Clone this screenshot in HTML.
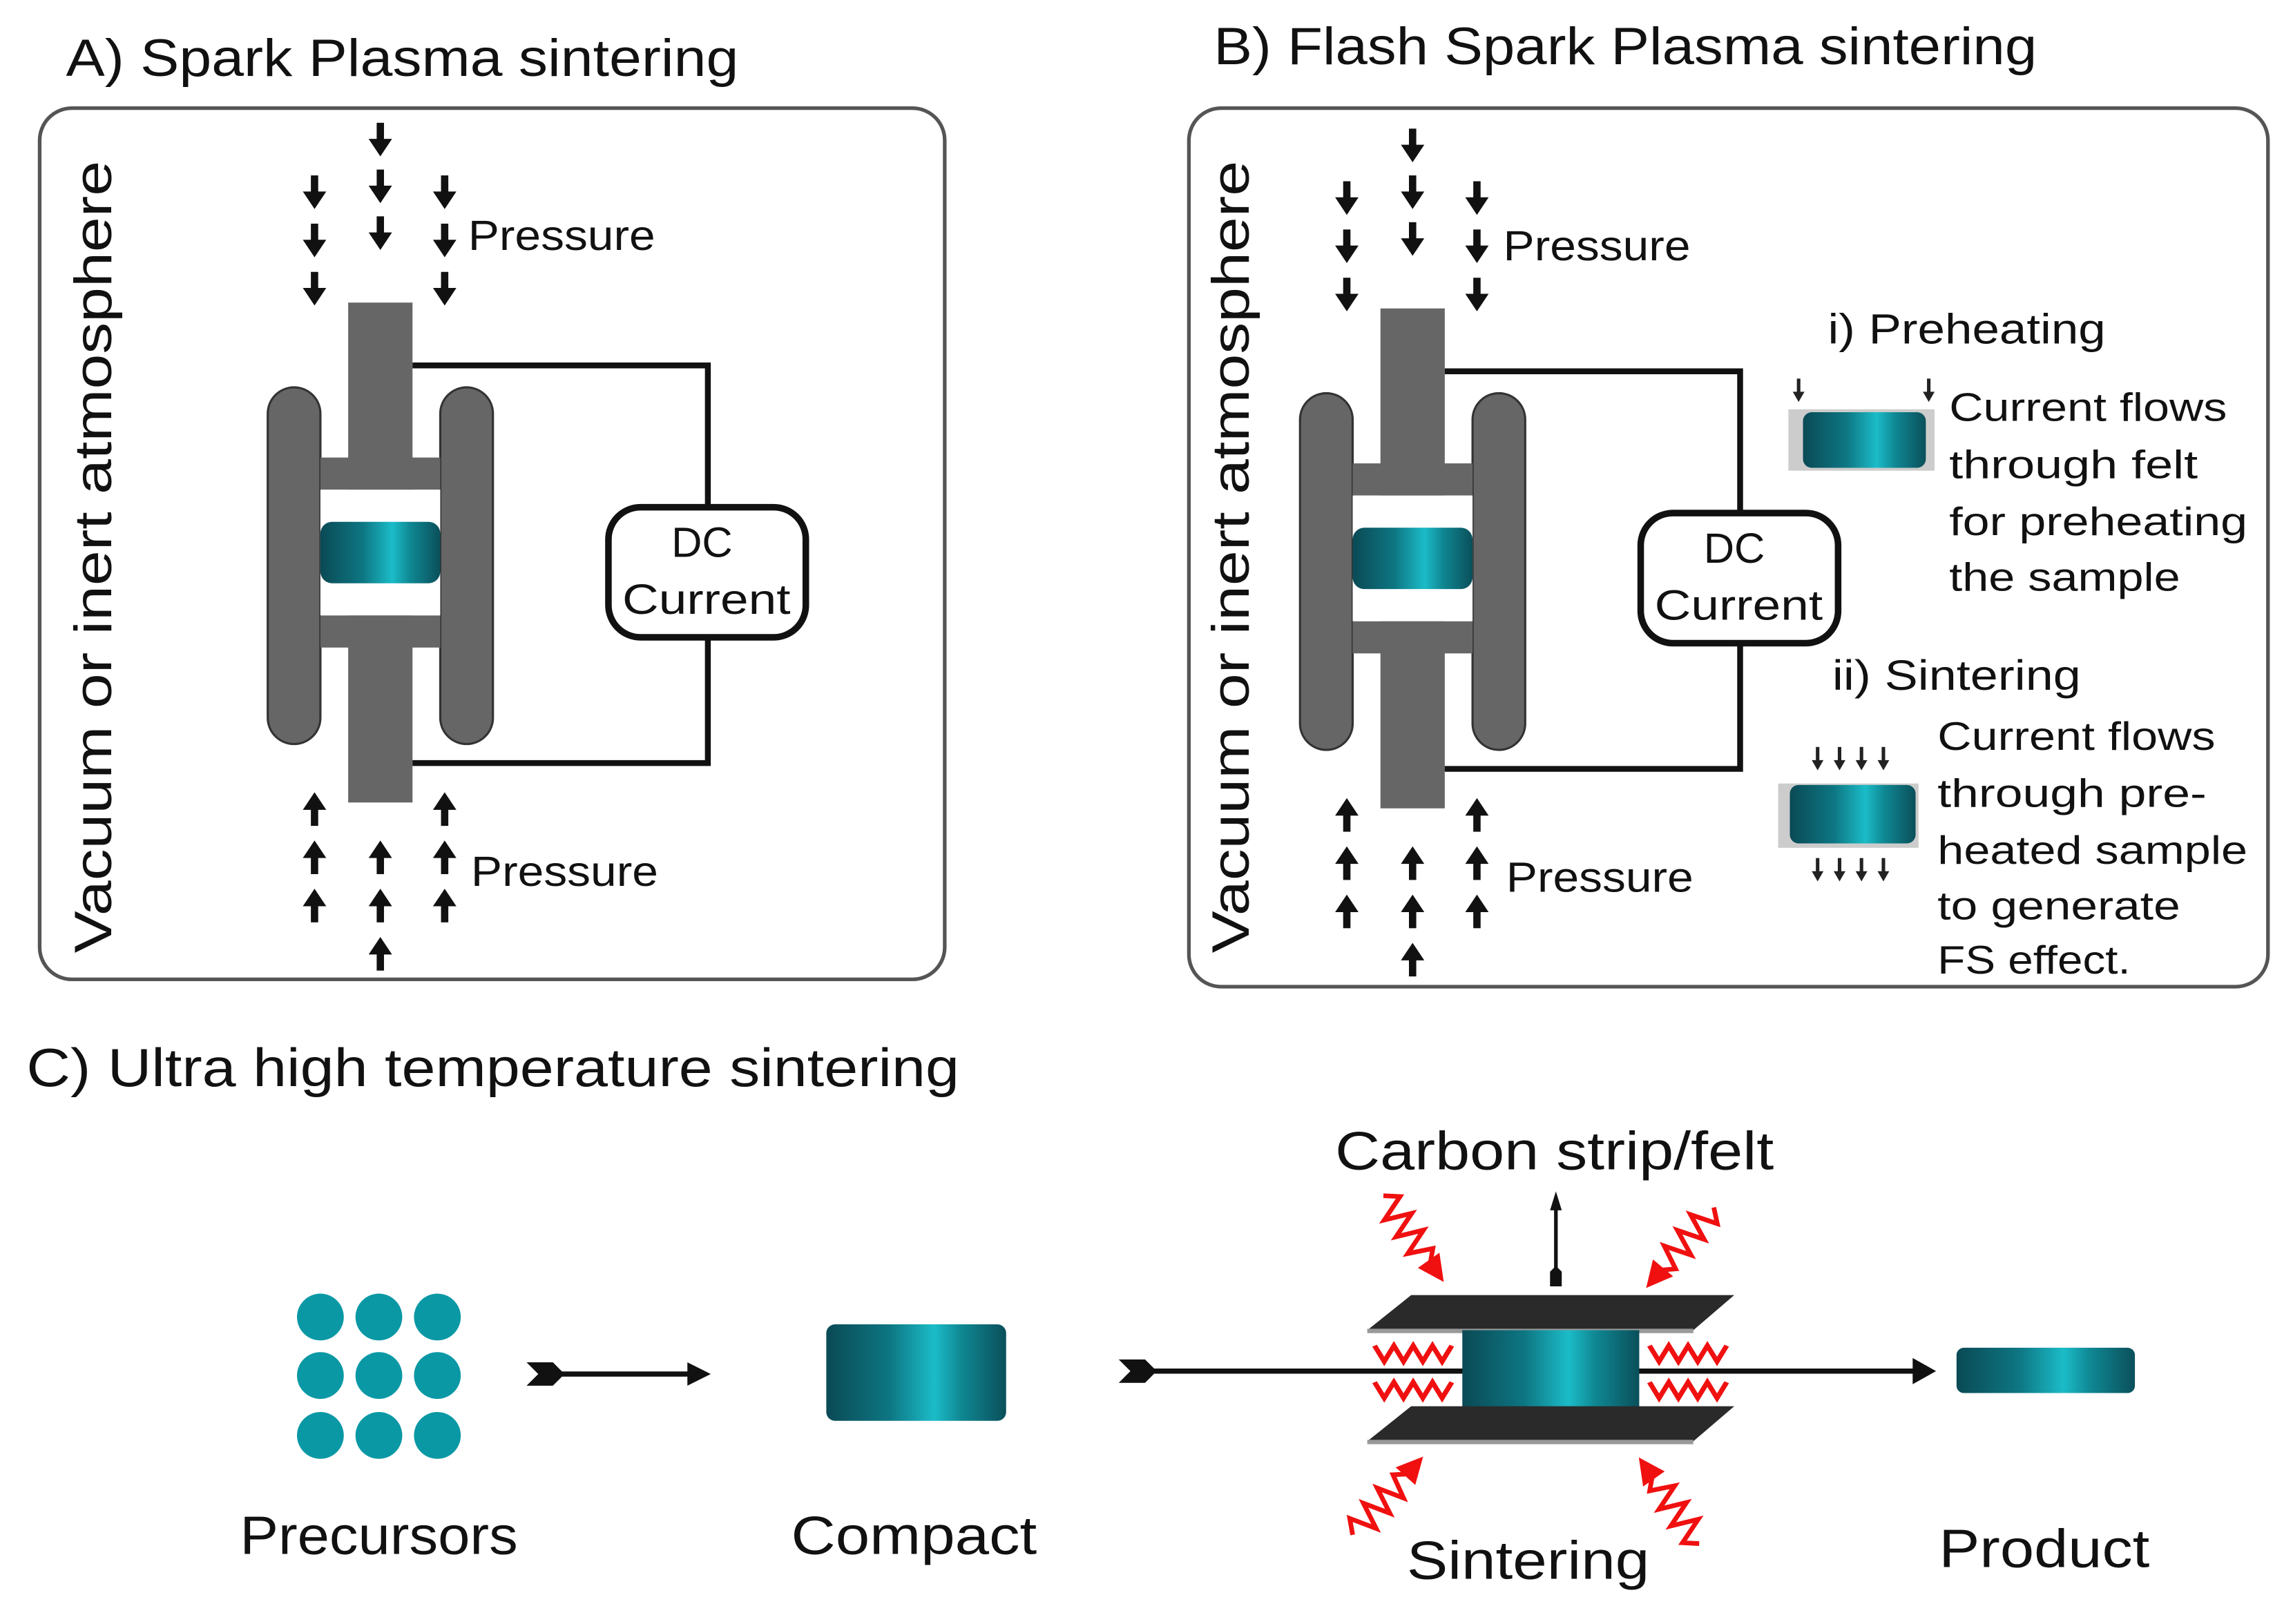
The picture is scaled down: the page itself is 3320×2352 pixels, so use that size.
<!DOCTYPE html>
<html><head><meta charset="utf-8"><style>
html,body{margin:0;padding:0;background:#fff;}
svg{display:block;}
text{font-family:"Liberation Sans",sans-serif;fill:#111;}
</style></head><body>
<svg width="3320" height="2352" viewBox="0 0 1568 1111" xmlns="http://www.w3.org/2000/svg">
<defs>
<linearGradient id="tg" x1="0" x2="1" y1="0" y2="0">
<stop offset="0" stop-color="#0a4a55"/><stop offset="0.35" stop-color="#0d7682"/>
<stop offset="0.6" stop-color="#1bbcc8"/><stop offset="0.75" stop-color="#0f8893"/><stop offset="1" stop-color="#0a4f5a"/>
</linearGradient>
<g id="da"><rect x="-2.5" y="-12" width="5" height="13" fill="#111"/><polygon points="-8,-1 8,-1 0,11" fill="#111"/></g>
<g id="ua"><rect x="-2.5" y="-1" width="5" height="13" fill="#111"/><polygon points="-8,1 8,1 0,-11" fill="#111"/></g>
<g id="sa"><rect x="-1.2" y="-9" width="2.4" height="10" fill="#222"/><polygon points="-4,0 4,0 0,7" fill="#222"/></g>
<g id="wave"><polyline points="0,0 7,-9 14,9 21,-9 28,9 35,-9 42,9 49,-7 56,0" fill="none" stroke="#f01010" stroke-width="3.2"/><polygon points="54,-9 72,0 54,9" fill="#f01010"/></g>
<g id="zz"><polyline points="0,-6 6,6 12,-6 18,6 24,-6 30,6 36,-6 42,6 48,-6" fill="none" stroke="#f01010" stroke-width="3.2"/></g>
</defs>

<!-- Panel A -->
<text x="45" y="52" font-size="36" textLength="460" lengthAdjust="spacingAndGlyphs">A) Spark Plasma sintering</text>
<rect x="27" y="74" width="619" height="596" rx="22" fill="none" stroke="#555" stroke-width="2.5"/>
<text transform="translate(76,652) rotate(-90)" font-size="36" textLength="542" lengthAdjust="spacingAndGlyphs">Vacuum or inert atmosphere</text>
<rect x="238" y="207" width="44" height="342" fill="#666"/>
<rect x="183" y="265" width="36" height="244" rx="18" fill="#666" stroke="#333" stroke-width="1.5"/>
<rect x="301" y="265" width="36" height="244" rx="18" fill="#666" stroke="#333" stroke-width="1.5"/>
<rect x="219" y="313" width="82" height="22" fill="#666"/>
<rect x="219" y="421" width="82" height="22" fill="#666"/>
<rect x="219" y="335" width="82" height="86" fill="#fff"/>
<rect x="219" y="357" width="82" height="42" rx="8" fill="url(#tg)"/>
<polyline points="282,250 484,250 484,348" fill="none" stroke="#111" stroke-width="4"/>
<polyline points="484,436 484,522 282,522" fill="none" stroke="#111" stroke-width="4"/>
<rect x="416" y="347" width="135" height="89" rx="22" fill="#fff" stroke="#111" stroke-width="4.5"/>
<text x="480" y="381" font-size="29" text-anchor="middle">DC</text>
<text x="483" y="420" font-size="29" text-anchor="middle" textLength="115" lengthAdjust="spacingAndGlyphs">Current</text>
<use href="#da" x="260" y="96"/><use href="#da" x="260" y="128"/><use href="#da" x="260" y="160"/>
<use href="#da" x="215" y="132"/><use href="#da" x="215" y="165"/><use href="#da" x="215" y="198"/>
<use href="#da" x="304" y="132"/><use href="#da" x="304" y="165"/><use href="#da" x="304" y="198"/>
<use href="#ua" x="215" y="553"/><use href="#ua" x="215" y="586"/><use href="#ua" x="215" y="619"/>
<use href="#ua" x="304" y="553"/><use href="#ua" x="304" y="586"/><use href="#ua" x="304" y="619"/>
<use href="#ua" x="260" y="586"/><use href="#ua" x="260" y="619"/><use href="#ua" x="260" y="652"/>
<text x="320" y="171" font-size="29" textLength="128" lengthAdjust="spacingAndGlyphs">Pressure</text>
<text x="322" y="606" font-size="29" textLength="128" lengthAdjust="spacingAndGlyphs">Pressure</text>

<!-- Panel B -->
<text x="830" y="44" font-size="36" textLength="563" lengthAdjust="spacingAndGlyphs">B) Flash Spark Plasma sintering</text>
<rect x="813" y="74" width="738" height="601" rx="22" fill="none" stroke="#555" stroke-width="2.5"/>
<text transform="translate(854,652) rotate(-90)" font-size="36" textLength="542" lengthAdjust="spacingAndGlyphs">Vacuum or inert atmosphere</text>
<g transform="translate(706,4)">
<rect x="238" y="207" width="44" height="342" fill="#666"/>
<rect x="183" y="265" width="36" height="244" rx="18" fill="#666" stroke="#333" stroke-width="1.5"/>
<rect x="301" y="265" width="36" height="244" rx="18" fill="#666" stroke="#333" stroke-width="1.5"/>
<rect x="219" y="313" width="82" height="22" fill="#666"/>
<rect x="219" y="421" width="82" height="22" fill="#666"/>
<rect x="219" y="335" width="82" height="86" fill="#fff"/>
<rect x="219" y="357" width="82" height="42" rx="8" fill="url(#tg)"/>
<polyline points="282,250 484,250 484,348" fill="none" stroke="#111" stroke-width="4"/>
<polyline points="484,436 484,522 282,522" fill="none" stroke="#111" stroke-width="4"/>
<rect x="416" y="347" width="135" height="89" rx="22" fill="#fff" stroke="#111" stroke-width="4.5"/>
<text x="480" y="381" font-size="29" text-anchor="middle">DC</text>
<text x="483" y="420" font-size="29" text-anchor="middle" textLength="115" lengthAdjust="spacingAndGlyphs">Current</text>
<use href="#da" x="260" y="96"/><use href="#da" x="260" y="128"/><use href="#da" x="260" y="160"/>
<use href="#da" x="215" y="132"/><use href="#da" x="215" y="165"/><use href="#da" x="215" y="198"/>
<use href="#da" x="304" y="132"/><use href="#da" x="304" y="165"/><use href="#da" x="304" y="198"/>
<use href="#ua" x="215" y="553"/><use href="#ua" x="215" y="586"/><use href="#ua" x="215" y="619"/>
<use href="#ua" x="304" y="553"/><use href="#ua" x="304" y="586"/><use href="#ua" x="304" y="619"/>
<use href="#ua" x="260" y="586"/><use href="#ua" x="260" y="619"/><use href="#ua" x="260" y="652"/>
<text x="322" y="174" font-size="29" textLength="128" lengthAdjust="spacingAndGlyphs">Pressure</text>
<text x="324" y="606" font-size="29" textLength="128" lengthAdjust="spacingAndGlyphs">Pressure</text>
</g>
<text x="1250" y="235" font-size="29" textLength="190" lengthAdjust="spacingAndGlyphs">i) Preheating</text>
<rect x="1223" y="280" width="100" height="42" fill="#ccc"/>
<rect x="1233" y="282" width="84" height="38" rx="6" fill="url(#tg)"/>
<use href="#sa" x="1230" y="268"/><use href="#sa" x="1319" y="268"/>
<g font-size="27">
<text x="1333" y="288" textLength="190" lengthAdjust="spacingAndGlyphs">Current flows</text>
<text x="1333" y="327" textLength="170" lengthAdjust="spacingAndGlyphs">through felt</text>
<text x="1333" y="366" textLength="204" lengthAdjust="spacingAndGlyphs">for preheating</text>
<text x="1333" y="404" textLength="158" lengthAdjust="spacingAndGlyphs">the sample</text>
</g>
<text x="1253" y="472" font-size="29" textLength="170" lengthAdjust="spacingAndGlyphs">ii) Sintering</text>
<rect x="1216" y="536" width="96" height="44" fill="#ccc"/>
<rect x="1224" y="537" width="86" height="40" rx="6" fill="url(#tg)"/>
<use href="#sa" x="1243" y="520"/><use href="#sa" x="1258" y="520"/><use href="#sa" x="1273" y="520"/><use href="#sa" x="1288" y="520"/>
<use href="#sa" x="1243" y="596"/><use href="#sa" x="1258" y="596"/><use href="#sa" x="1273" y="596"/><use href="#sa" x="1288" y="596"/>
<g font-size="27">
<text x="1325" y="513" textLength="190" lengthAdjust="spacingAndGlyphs">Current flows</text>
<text x="1325" y="552" textLength="184" lengthAdjust="spacingAndGlyphs">through pre-</text>
<text x="1325" y="591" textLength="212" lengthAdjust="spacingAndGlyphs">heated sample</text>
<text x="1325" y="629" textLength="166" lengthAdjust="spacingAndGlyphs">to generate</text>
<text x="1325" y="666" textLength="132" lengthAdjust="spacingAndGlyphs">FS effect.</text>
</g>

<!-- Panel C -->
<text x="18" y="743" font-size="37" textLength="638" lengthAdjust="spacingAndGlyphs">C) Ultra high temperature sintering</text>
<g fill="#0a98a5">
<circle cx="219" cy="901" r="16"/><circle cx="259" cy="901" r="16"/><circle cx="299" cy="901" r="16"/>
<circle cx="219" cy="941" r="16"/><circle cx="259" cy="941" r="16"/><circle cx="299" cy="941" r="16"/>
<circle cx="219" cy="982" r="16"/><circle cx="259" cy="982" r="16"/><circle cx="299" cy="982" r="16"/>
</g>
<text x="259" y="1063" font-size="37" text-anchor="middle" textLength="190" lengthAdjust="spacingAndGlyphs">Precursors</text>
<line x1="370" y1="940" x2="475" y2="940" stroke="#111" stroke-width="3.5"/>
<polygon points="360,932 378,932 386,940 378,948 360,948 368,940" fill="#111"/>
<polygon points="470,932 486,940 470,948" fill="#111"/>
<rect x="565" y="906" width="123" height="66" rx="6" fill="url(#tg)"/>
<text x="625" y="1063" font-size="37" text-anchor="middle" textLength="168" lengthAdjust="spacingAndGlyphs">Compact</text>

<line x1="775" y1="938" x2="1316" y2="938" stroke="#111" stroke-width="3.5"/>
<polygon points="765,930 783,930 791,938 783,946 765,946 773,938" fill="#111"/>
<polygon points="1308,929 1324,938 1308,947" fill="#111"/>
<polygon points="965,886 1186,886 1158,910 935,910" fill="#2a2a2a"/>
<rect x="935" y="909" width="223" height="3" fill="#999"/>
<rect x="1000" y="910" width="121" height="55" fill="url(#tg)"/>
<polygon points="965,962 1186,962 1158,986 935,986" fill="#2a2a2a"/>
<rect x="935" y="985" width="223" height="3" fill="#999"/>
<use href="#zz" transform="translate(940,926) scale(1.1,0.9)"/>
<use href="#zz" transform="translate(940,951) scale(1.1,0.9)"/>
<use href="#zz" transform="translate(1128,926) scale(1.1,0.9)"/>
<use href="#zz" transform="translate(1128,951) scale(1.1,0.9)"/>
<line x1="1064" y1="880" x2="1064" y2="826" stroke="#111" stroke-width="2.5"/>
<polygon points="1060,828 1064,815 1068,828" fill="#111"/>
<polygon points="1060,880 1060,870 1064,866 1068,870 1068,880" fill="#111"/>
<text x="1063" y="800" font-size="37" text-anchor="middle" textLength="300" lengthAdjust="spacingAndGlyphs">Carbon strip/felt</text>
<use href="#wave" transform="translate(946,818) rotate(55)"/>
<use href="#wave" transform="translate(1172,826) rotate(130)"/>
<use href="#wave" transform="translate(925,1050) rotate(-48)"/>
<use href="#wave" transform="translate(1162,1056) rotate(-125)"/>
<text x="1045" y="1080" font-size="37" text-anchor="middle" textLength="166" lengthAdjust="spacingAndGlyphs">Sintering</text>
<rect x="1338" y="922" width="122" height="31" rx="5" fill="url(#tg)"/>
<text x="1398" y="1072" font-size="37" text-anchor="middle" textLength="144" lengthAdjust="spacingAndGlyphs">Product</text>
</svg>
</body></html>
